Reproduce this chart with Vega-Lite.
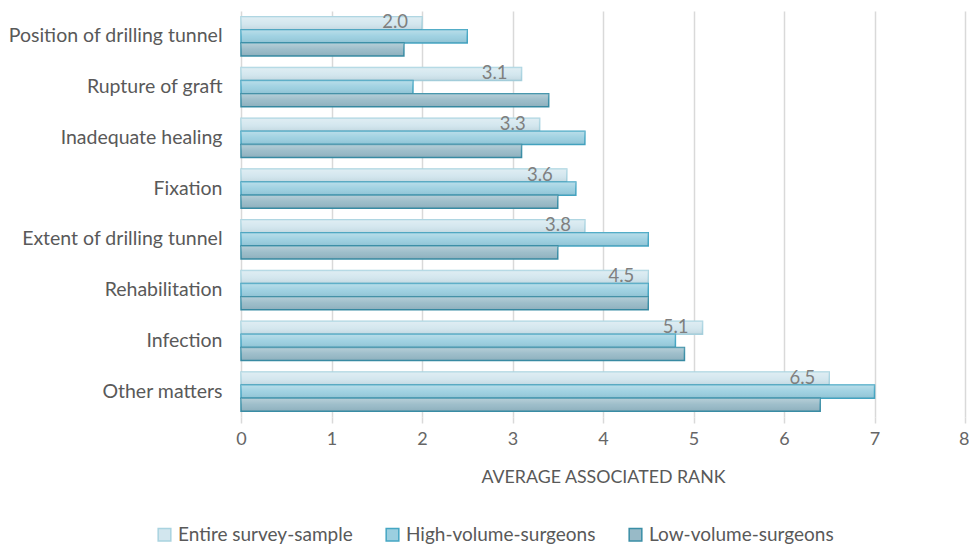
{
  "$schema": "https://vega.github.io/schema/vega-lite/v6.json",
  "width": 724,
  "height": 406,
  "autosize": {"type": "none"},
  "padding": {"left": 241, "top": 11, "right": 4, "bottom": 128},
  "config": {"font": "Lato", "view": {"stroke": null}},
  "data": {
    "values": [
      {"issue": "Position of drilling tunnel", "group": "Entire survey-sample", "rank": 2.0},
      {"issue": "Position of drilling tunnel", "group": "High-volume-surgeons", "rank": 2.5},
      {"issue": "Position of drilling tunnel", "group": "Low-volume-surgeons", "rank": 1.8},
      {"issue": "Rupture of graft", "group": "Entire survey-sample", "rank": 3.1},
      {"issue": "Rupture of graft", "group": "High-volume-surgeons", "rank": 1.9},
      {"issue": "Rupture of graft", "group": "Low-volume-surgeons", "rank": 3.4},
      {"issue": "Inadequate healing", "group": "Entire survey-sample", "rank": 3.3},
      {"issue": "Inadequate healing", "group": "High-volume-surgeons", "rank": 3.8},
      {"issue": "Inadequate healing", "group": "Low-volume-surgeons", "rank": 3.1},
      {"issue": "Fixation", "group": "Entire survey-sample", "rank": 3.6},
      {"issue": "Fixation", "group": "High-volume-surgeons", "rank": 3.7},
      {"issue": "Fixation", "group": "Low-volume-surgeons", "rank": 3.5},
      {"issue": "Extent of drilling tunnel", "group": "Entire survey-sample", "rank": 3.8},
      {"issue": "Extent of drilling tunnel", "group": "High-volume-surgeons", "rank": 4.5},
      {"issue": "Extent of drilling tunnel", "group": "Low-volume-surgeons", "rank": 3.5},
      {"issue": "Rehabilitation", "group": "Entire survey-sample", "rank": 4.5},
      {"issue": "Rehabilitation", "group": "High-volume-surgeons", "rank": 4.5},
      {"issue": "Rehabilitation", "group": "Low-volume-surgeons", "rank": 4.5},
      {"issue": "Infection", "group": "Entire survey-sample", "rank": 5.1},
      {"issue": "Infection", "group": "High-volume-surgeons", "rank": 4.8},
      {"issue": "Infection", "group": "Low-volume-surgeons", "rank": 4.9},
      {"issue": "Other matters", "group": "Entire survey-sample", "rank": 6.5},
      {"issue": "Other matters", "group": "High-volume-surgeons", "rank": 7.0},
      {"issue": "Other matters", "group": "Low-volume-surgeons", "rank": 6.4}
    ]
  },
  "encoding": {
    "y": {
      "field": "issue",
      "type": "nominal",
      "sort": null,
      "scale": {"paddingInner": 0.23, "paddingOuter": 0.115},
      "axis": {
        "title": null,
        "domain": false,
        "ticks": false,
        "labelPadding": 19,
        "labelFontSize": 19.5,
        "labelColor": "#595959",
        "labelLimit": 300
      }
    },
    "yOffset": {
      "field": "group",
      "type": "nominal",
      "sort": ["Entire survey-sample", "High-volume-surgeons", "Low-volume-surgeons"],
      "scale": {"paddingInner": 0, "paddingOuter": 0}
    },
    "x": {
      "field": "rank",
      "type": "quantitative",
      "scale": {"domain": [0, 8], "nice": false},
      "axis": {
        "title": "AVERAGE ASSOCIATED RANK",
        "titleFontSize": 17.8,
        "titleFontWeight": "normal",
        "titleColor": "#595959",
        "titlePadding": 20,
        "values": [0, 1, 2, 3, 4, 5, 6, 7, 8],
        "domain": false,
        "grid": true,
        "gridColor": "#d9d9d9",
        "gridWidth": 1.5,
        "tickColor": "#d9d9d9",
        "tickWidth": 1.5,
        "tickSize": 6,
        "labelFontSize": 18,
        "labelColor": "#666666",
        "labelPadding": 7,
        "labelFlush": false,
        "labelAlign": {"expr": "datum.value === 8 ? 'right' : 'center'"},
        "labelOffset": {"expr": "datum.value === 8 ? 4 : 0"}
      }
    }
  },
  "layer": [
    {
      "mark": {"type": "bar", "strokeWidth": 1.5},
      "encoding": {
        "color": {
          "field": "group",
          "type": "nominal",
          "title": null,
          "scale": {
            "domain": ["Entire survey-sample", "High-volume-surgeons", "Low-volume-surgeons"],
            "range": ["#d2e6ee", "#9bcfe0", "#98bac7"]
          },
          "legend": {
            "orient": "none",
            "direction": "horizontal",
            "legendX": -86,
            "legendY": 514,
            "symbolType": "square",
            "symbolSize": 160,
            "symbolStrokeWidth": 1.5,
            "labelFontSize": 19,
            "labelColor": "#595959",
            "labelLimit": 300,
            "columnPadding": 30,
            "labelOffset": 4
          }
        },
        "stroke": {
          "field": "group",
          "type": "nominal",
          "title": null,
          "scale": {
            "domain": ["Entire survey-sample", "High-volume-surgeons", "Low-volume-surgeons"],
            "range": ["#a9d3e0", "#45a6c3", "#3a8ea6"]
          },
          "legend": {
            "orient": "none",
            "direction": "horizontal",
            "legendX": -86,
            "legendY": 514,
            "symbolType": "square",
            "symbolSize": 160,
            "symbolStrokeWidth": 1.5,
            "labelFontSize": 19,
            "labelColor": "#595959",
            "labelLimit": 300,
            "columnPadding": 30,
            "labelOffset": 4
          }
        }
      }
    },
    {
      "mark": {
        "type": "bar",
        "strokeWidth": 0,
        "color": {
          "gradient": "linear",
          "x1": 0, "y1": 0, "x2": 0, "y2": 1,
          "stops": [
            {"offset": 0, "color": "rgba(255,255,255,0.30)"},
            {"offset": 0.5, "color": "rgba(255,255,255,0.05)"},
            {"offset": 1, "color": "rgba(0,40,60,0.08)"}
          ]
        }
      }
    },
    {
      "transform": [{"filter": "datum.group === 'Entire survey-sample'"}],
      "mark": {"type": "text", "align": "right", "baseline": "middle", "dx": -14, "dy": -1, "fontSize": 18.5, "color": "#7f7f7f"},
      "encoding": {"text": {"field": "rank", "type": "quantitative", "format": ".1f"}}
    }
  ]
}
